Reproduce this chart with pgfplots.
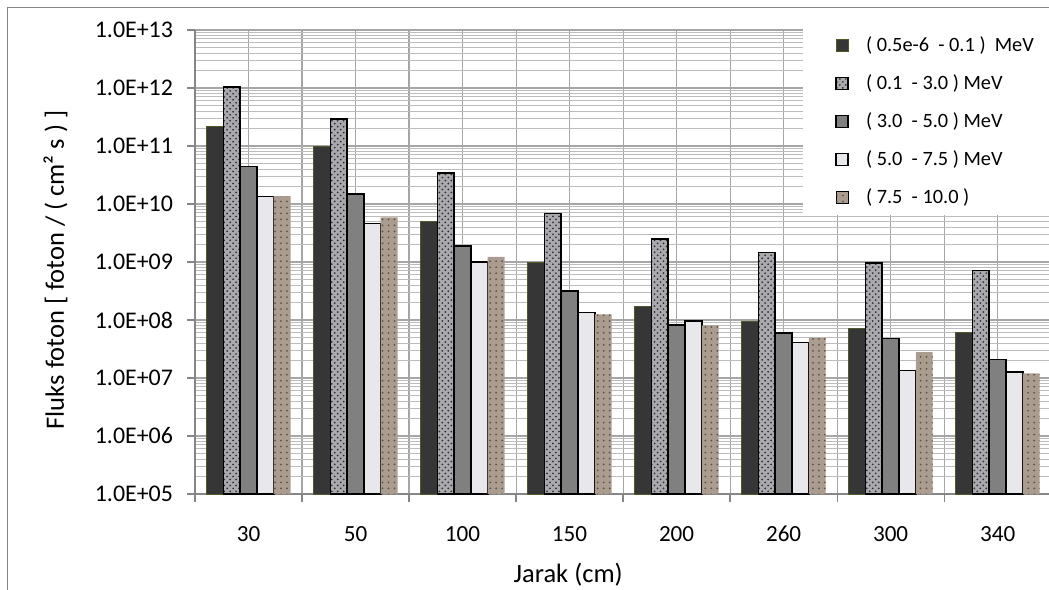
\documentclass[border=0pt]{standalone}
\usepackage{fontspec}
\setmainfont{Carlito}
\usepackage{pgfplots}
\pgfplotsset{compat=1.18}
\usetikzlibrary{patterns}
\definecolor{gridmaj}{RGB}{166,166,166}
\definecolor{gridmin}{RGB}{188,188,188}
\definecolor{axisgray}{RGB}{134,134,134}
\definecolor{s1fill}{RGB}{54,54,54}
\definecolor{s1edge}{RGB}{75,90,40}
\definecolor{s2fill}{RGB}{170,170,174}
\definecolor{s2dot}{RGB}{50,50,54}
\definecolor{s3fill}{RGB}{128,128,128}
\definecolor{s4fill}{RGB}{232,232,236}
\definecolor{s5fill}{RGB}{170,156,142}
\definecolor{s5dot}{RGB}{96,82,68}
\begin{document}
\begin{tikzpicture}
\useasboundingbox (0,0) rectangle (524.5bp,-295bp);
\clip (0,0) rectangle (524.5bp,-295bp);
\draw[color=axisgray, line width=0.6bp] (3.75bp,-3.75bp) rectangle (800bp,-500bp);
\begin{axis}[
  at={(97.5bp,-247bp)}, anchor=south west,
  scale only axis, width=427bp, height=232bp,
  ymode=log, log origin=infty,
  ymin=1e5, ymax=1e13, xmin=-0.5, xmax=7.48,
  ybar=0pt, bar width=8.4bp,
  legend image code/.code={\draw[#1] (0bp,-3bp) rectangle (6bp,3bp);},
  axis x line*=bottom, axis y line*=left,
  axis line style={axisgray, line width=0.6bp},
  tick align=outside, major tick length=4bp, minor tick length=4bp,
  tick style={axisgray, line width=0.6bp},
  xtick={0,...,7}, xticklabels={30,50,100,150,200,260,300,340},
  minor xtick={-0.5,0.5,...,7.5},
  major x tick style={draw=none},
  minor y tick style={draw=none},
  ytick={1e5,1e6,1e7,1e8,1e9,1e10,1e11,1e12,1e13},
  yticklabels={1.0E+05,1.0E+06,1.0E+07,1.0E+08,1.0E+09,1.0E+10,1.0E+11,1.0E+12,1.0E+13},
  minor ytick={2e5,3e5,4e5,5e5,6e5,7e5,8e5,9e5,
    2e6,3e6,4e6,5e6,6e6,7e6,8e6,9e6,
    2e7,3e7,4e7,5e7,6e7,7e7,8e7,9e7,
    2e8,3e8,4e8,5e8,6e8,7e8,8e8,9e8,
    2e9,3e9,4e9,5e9,6e9,7e9,8e9,9e9,
    2e10,3e10,4e10,5e10,6e10,7e10,8e10,9e10,
    2e11,3e11,4e11,5e11,6e11,7e11,8e11,9e11,
    2e12,3e12,4e12,5e12,6e12,7e12,8e12,9e12},
  xmajorgrids, xminorgrids, ymajorgrids, yminorgrids,
  major grid style={gridmaj, line width=0.55bp},
  minor grid style={gridmin, line width=0.5bp},
  minor x grid style={gridmaj, line width=0.55bp},
  yticklabel style={font=\fontsize{12}{14}\selectfont, xshift=-3.5bp},
  xticklabel style={font=\fontsize{11.6}{14}\selectfont, text height=8bp, text depth=0bp, anchor=north, yshift=-8bp},
  xlabel={Jarak (cm)},
  xlabel style={at={(axis description cs:0.437,-0.1897)}, anchor=base, font=\fontsize{13.3}{15}\selectfont},
  ylabel={Fluks foton [ foton / ( cm² s ) ]},
  ylabel style={at={(axis description cs:-0.1633,0.4828)}, anchor=center, font=\fontsize{13.3}{15}\selectfont},
  legend cell align=left,
  legend style={at={(axis description cs:0.712,1.0065)}, anchor=north west,
    draw=none, fill=white, inner xsep=16bp, inner ysep=3.75bp, row sep=8.5bp,
    column sep=8.5bp, font=\fontsize{10.2}{12}\selectfont,
    nodes={inner sep=0pt, text height=8.2bp, text depth=2.3bp}},
]
\addplot[fill=s1fill, draw=s1edge, line width=0.5bp] coordinates {
  (0,2.2e11) (1,9.7e10) (2,4.9e9) (3,9.7e8) (4,1.74e8) (5,9.6e7) (6,7.1e7) (7,6.0e7)};
\addplot[fill=s2fill, draw=black, line width=0.8bp, postaction={pattern=crosshatch dots, pattern color=s2dot}] coordinates {
  (0,1.03e12) (1,2.9e11) (2,3.4e10) (3,6.9e9) (4,2.5e9) (5,1.45e9) (6,9.7e8) (7,7.1e8)};
\addplot[fill=s3fill, draw=black, line width=0.8bp] coordinates {
  (0,4.4e10) (1,1.47e10) (2,1.9e9) (3,3.2e8) (4,8.2e7) (5,6.0e7) (6,4.8e7) (7,2.1e7)};
\addplot[fill=s4fill, draw=black, line width=0.8bp] coordinates {
  (0,1.34e10) (1,4.6e9) (2,1.0e9) (3,1.34e8) (4,9.5e7) (5,4.1e7) (6,1.34e7) (7,1.27e7)};
\addplot[fill=s5fill, draw=none, postaction={pattern=dots, pattern color=s5dot}] coordinates {
  (0,1.37e10) (1,5.9e9) (2,1.23e9) (3,1.25e8) (4,8.1e7) (5,4.9e7) (6,2.8e7) (7,1.2e7)};
\legend{( 0.5e-6\ \ - 0.1 )\ \ MeV, ( 0.1\ \ - 3.0 ) MeV, ( 3.0\ \ - 5.0 ) MeV, ( 5.0\ \ - 7.5 ) MeV, ( 7.5\ \ - 10.0 )}
\end{axis}
\end{tikzpicture}
\end{document}
